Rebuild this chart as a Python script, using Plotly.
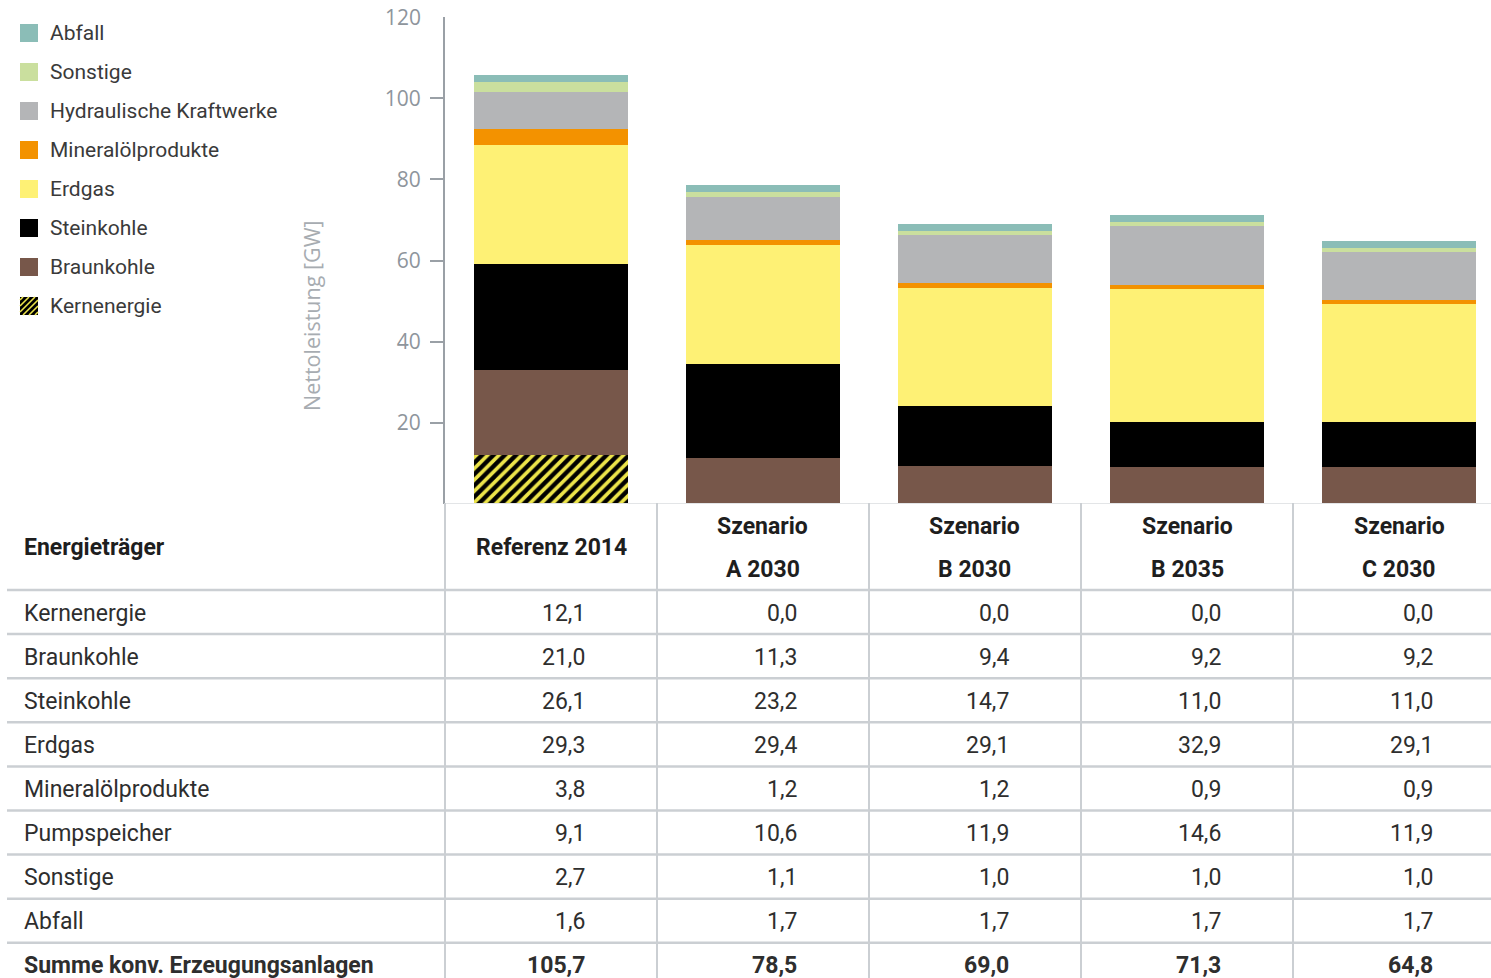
import plotly.graph_objects as go

# --- data -------------------------------------------------------------
scenarios = ["Referenz 2014", "Szenario A 2030", "Szenario B 2030",
             "Szenario B 2035", "Szenario C 2030"]

carriers = ["Kernenergie", "Braunkohle", "Steinkohle", "Erdgas",
            "Mineralölprodukte", "Pumpspeicher", "Sonstige", "Abfall"]
legend_names = ["Kernenergie", "Braunkohle", "Steinkohle", "Erdgas",
                "Mineralölprodukte", "Hydraulische Kraftwerke", "Sonstige", "Abfall"]

kernenergie = [12.1, 0.0, 0.0, 0.0, 0.0]
braunkohle = [21.0, 11.3, 9.4, 9.2, 9.2]
steinkohle = [26.1, 23.2, 14.7, 11.0, 11.0]
erdgas = [29.3, 29.4, 29.1, 32.9, 29.1]
mineraloel = [3.8, 1.2, 1.2, 0.9, 0.9]
pumpspeicher = [9.1, 10.6, 11.9, 14.6, 11.9]
sonstige = [2.7, 1.1, 1.0, 1.0, 1.0]
abfall = [1.6, 1.7, 1.7, 1.7, 1.7]

series = [kernenergie, braunkohle, steinkohle, erdgas,
          mineraloel, pumpspeicher, sonstige, abfall]
colors = ["#ece44a", "#77574a", "#000000", "#fef175",
          "#f39200", "#b4b5b7", "#cadf9e", "#8bbdb7"]

y_ticks = [20, 40, 60, 80, 100]
y_top = 120

# --- page geometry (pixels) -------------------------------------------
W, H = 1491, 978


def px(x):
    return x / W


def py(y):
    return 1 - y / H


plot_left, plot_top, plot_bottom = 445, 17, 504
col_w = 212
col_edges = [445 + col_w * i for i in range(len(scenarios))]

fig = go.Figure()

for name, vals, col in zip(legend_names, series, colors):
    marker = dict(color=col, line=dict(width=0))
    if name == "Kernenergie":
        marker["pattern"] = dict(shape="/", bgcolor=col, fgcolor="#000000",
                                 size=8, solidity=0.55, fillmode="replace")
    fig.add_trace(go.Bar(x=scenarios, y=vals, name=name, marker=marker,
                         showlegend=False, hoverinfo="y+name"))

font_main = "Roboto, 'DejaVu Sans', sans-serif"
font_axis = "'Open Sans', 'DejaVu Sans', sans-serif"
tsize = 23

shapes = []
annotations = []

# --- legend (top-down order is the reverse of the stack) --------------
leg_y0 = 33
leg_dy = 39
for i, (name, col) in enumerate(zip(legend_names[::-1], colors[::-1])):
    cy = leg_y0 + i * leg_dy
    x0, x1, y0, y1 = 20, 38, cy - 9, cy + 9
    if name == "Kernenergie":
        shapes.append(dict(type="rect", xref="paper", yref="paper",
                           x0=px(x0), x1=px(x1), y0=py(y1), y1=py(y0),
                           fillcolor="#000000", line=dict(width=0)))
        for c in [3, 9, 15, 21, 27, 33]:
            ax0, ay0 = max(0, c - 18), min(18, c)
            ax1, ay1 = min(18, c), max(0, c - 18)
            shapes.append(dict(type="line", xref="paper", yref="paper",
                               x0=px(x0 + ax0), y0=py(y0 + ay0),
                               x1=px(x0 + ax1), y1=py(y0 + ay1),
                               line=dict(color="#ece44a", width=1.6)))
    else:
        shapes.append(dict(type="rect", xref="paper", yref="paper",
                           x0=px(x0), x1=px(x1), y0=py(y1), y1=py(y0),
                           fillcolor=col, line=dict(width=0)))
    annotations.append(dict(text=name, xref="paper", yref="paper",
                            x=px(48), y=py(cy), xanchor="left", yanchor="middle",
                            showarrow=False,
                            font=dict(family=font_main, size=21, color="#3a3a3a")))

# --- axis extras ------------------------------------------------------
annotations.append(dict(text=str(y_top), xref="paper", yref="y",
                        x=px(423), y=y_top, xanchor="right", yanchor="middle",
                        showarrow=False,
                        font=dict(family=font_axis, size=21, color="#8e959c")))
annotations.append(dict(text="Nettoleistung [GW]", xref="paper", yref="paper",
                        x=px(311), y=py(316), textangle=-90,
                        xanchor="center", yanchor="middle", showarrow=False,
                        font=dict(family=font_axis, size=21.5, color="#a7acb1")))

# baseline beneath the bars
shapes.append(dict(type="line", xref="paper", yref="paper",
                   x0=px(445), x1=1, y0=py(503.5), y1=py(503.5),
                   line=dict(color="#e3e5e7", width=1)))

# --- table ------------------------------------------------------------
header_mid = 547
row_top = 590
row_h = 44.1
text_dark = "#2e2e2e"
grid_col = "#cbcfd3"

# horizontal rules
for i in range(len(carriers) + 1):
    yy = row_top + i * row_h
    shapes.append(dict(type="line", xref="paper", yref="paper",
                       x0=px(7), x1=1, y0=py(yy), y1=py(yy),
                       line=dict(color=grid_col, width=2.5)))
# vertical rules
for xe in col_edges:
    shapes.append(dict(type="line", xref="paper", yref="paper",
                       x0=px(xe), x1=px(xe), y0=py(503), y1=0,
                       line=dict(color=grid_col, width=2)))

annotations.append(dict(text="<b>Energieträger</b>", xref="paper", yref="paper",
                        x=px(22), y=py(header_mid), xanchor="left", yanchor="middle",
                        showarrow=False,
                        font=dict(family=font_main, size=tsize, color="#1e1e1e")))

for j, sc in enumerate(scenarios):
    cx = col_edges[j] + col_w / 2
    if sc.startswith("Szenario"):
        first, second = sc.split(" ", 1)
        for t, yy in [(first, 526), (second, 569)]:
            annotations.append(dict(text=f"<b>{t}</b>", xref="paper", yref="paper",
                                    x=px(cx), y=py(yy), xanchor="center",
                                    yanchor="middle", showarrow=False,
                                    font=dict(family=font_main, size=tsize,
                                              color="#1e1e1e")))
    else:
        annotations.append(dict(text=f"<b>{sc}</b>", xref="paper", yref="paper",
                                x=px(cx), y=py(header_mid), xanchor="center",
                                yanchor="middle", showarrow=False,
                                font=dict(family=font_main, size=tsize, color="#1e1e1e")))


def de(v):
    return f"{v:.1f}".replace(".", ",")


rows = list(zip(carriers, series))
totals = [round(sum(s[j] for s in series), 1) for j in range(len(scenarios))]

for i, (label, vals) in enumerate(rows + [("Summe konv. Erzeugungsanlagen", totals)]):
    cy = row_top + i * row_h + row_h / 2 + 1
    bold = i == len(rows)
    lab = f"<b>{label}</b>" if bold else label
    annotations.append(dict(text=lab, xref="paper", yref="paper",
                            x=px(22), y=py(cy), xanchor="left", yanchor="middle",
                            showarrow=False,
                            font=dict(family=font_main, size=tsize, color=text_dark)))
    for j, v in enumerate(vals):
        t = f"<b>{de(v)}</b>" if bold else de(v)
        annotations.append(dict(text=t, xref="paper", yref="paper",
                                x=px(col_edges[j] + 142), y=py(cy),
                                xanchor="right", yanchor="middle", showarrow=False,
                                font=dict(family=font_main, size=tsize, color=text_dark)))

# --- layout -----------------------------------------------------------
fig.update_layout(
    width=W, height=H,
    margin=dict(l=0, r=0, t=0, b=0),
    paper_bgcolor="white", plot_bgcolor="white",
    barmode="stack", bargap=0.27,
    showlegend=False,
    xaxis=dict(domain=[px(plot_left), 1], range=[-0.5, -0.5 + (W - plot_left) / col_w],
               showticklabels=False, showline=False, showgrid=False,
               zeroline=False, ticks=""),
    yaxis=dict(domain=[py(plot_bottom), py(plot_top)], range=[0, y_top],
               tickvals=y_ticks, ticktext=[str(v) for v in y_ticks],
               ticks="outside", ticklen=13, tickwidth=2, tickcolor="#9aa0a6",
               ticklabelstandoff=5,
               showline=True, linecolor="#9aa0a6", linewidth=2,
               showgrid=False, zeroline=False,
               tickfont=dict(family=font_axis, size=21, color="#8e959c")),
    shapes=shapes,
    annotations=annotations,
)

fig.write_html("out.html")
